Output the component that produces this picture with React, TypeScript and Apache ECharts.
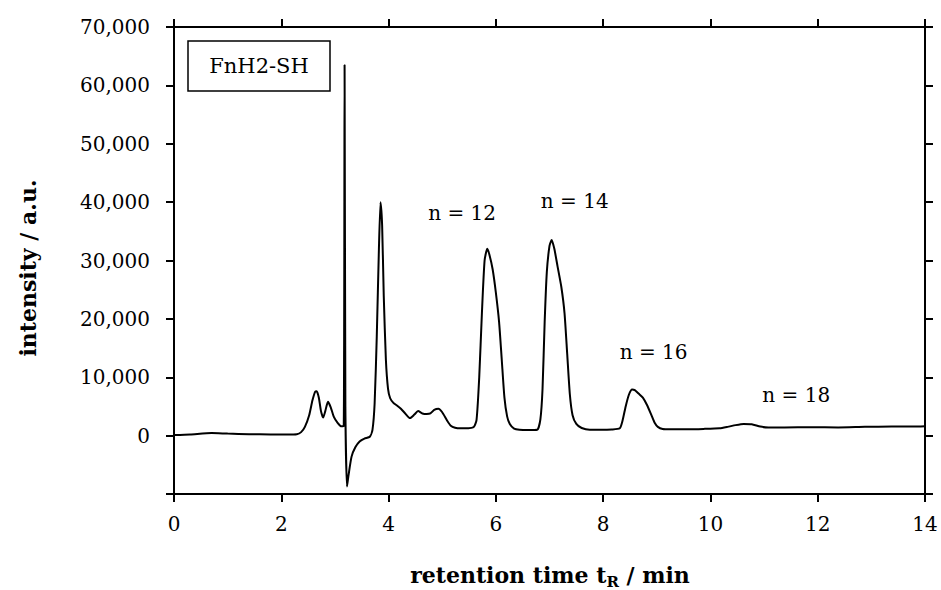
import React, { useEffect, useRef } from 'react';
import * as echarts from 'echarts';

const retentionTime = [
  0, 0.3, 0.7, 1.0, 1.4, 1.8, 2.11, 2.29, 2.37, 2.44, 2.52, 2.58, 2.63, 2.66, 2.7, 2.74, 2.78, 2.82, 2.87, 2.92,
  2.98, 3.05, 3.12, 3.165, 3.18, 3.195, 3.225, 3.25, 3.31, 3.38, 3.46, 3.55, 3.65, 3.7, 3.74, 3.78, 3.82, 3.85,
  3.88, 3.91, 3.95, 3.99, 4.03, 4.09, 4.15, 4.23, 4.31, 4.4, 4.48, 4.55, 4.63, 4.71, 4.78, 4.85, 4.93, 5.0, 5.09,
  5.16, 5.24, 5.34, 5.49, 5.59, 5.64, 5.69, 5.74, 5.79, 5.84, 5.88, 5.94, 6.0, 6.06, 6.11, 6.16, 6.21, 6.26, 6.34, 6.44,
  6.6, 6.77, 6.83, 6.87, 6.91, 6.95, 7.0, 7.04, 7.09, 7.15, 7.22, 7.28, 7.33, 7.38, 7.43, 7.5, 7.6, 7.75, 7.95,
  8.16, 8.31, 8.36, 8.42, 8.48, 8.54, 8.59, 8.66, 8.74, 8.82, 8.9, 8.96, 9.02, 9.11, 9.26, 9.57, 9.87, 10.17, 10.32,
  10.47, 10.62, 10.77, 10.93, 11.08, 11.38, 11.88, 12.38, 12.88, 13.38, 13.78, 14.0,
];
const intensity = [
  100, 200, 450, 350, 250, 200, 200, 250, 600, 1500, 3500, 6000, 7500, 7600, 6500, 4200, 3100, 4200, 5800, 4900,
  3200, 2200, 1600, 1700, 63500, 5000, -8700, -7000, -3600, -2000, -1000, -500, -200, 1000, 5500, 17000, 32000, 40000,
  36000, 24000, 13000, 8000, 6400, 5600, 5200, 4600, 3800, 3000, 3600, 4200, 3800, 3700, 3800, 4400, 4600, 4000, 2600,
  1700, 1350, 1250, 1250, 1500, 2700, 10000, 21000, 30000, 32000, 31000, 28500, 24500, 19500, 13000, 6500, 3300, 2000, 1200, 1000,
  950, 1000, 2800, 8000, 19500, 28000, 32500, 33500, 32000, 29000, 25500, 21000, 14000, 7000, 3500, 2000, 1300, 1000, 1000,
  1050, 1250, 2500, 5000, 7000, 7900, 7800, 7200, 6500, 5200, 3500, 2200, 1500, 1150, 1100, 1100, 1150, 1250, 1500,
  1800, 2000, 1950, 1550, 1400, 1400, 1450, 1400, 1500, 1550, 1550, 1600,
];

const annotationText = ['n = 12', 'n = 14', 'n = 16', 'n = 18'];
const annotationX = [5.37, 7.47, 8.94, 11.6];
const annotationY = [38100, 40200, 14300, 7000];
const sampleName = 'FnH2-SH';
const xTitleMain = 'retention time t';
const xTitleSub = 'R';
const xTitleTail = ' / min';
const yTitle = 'intensity / a.u.';

const FONT = 'DejaVu Serif';

export default function App() {
  const ref = useRef<HTMLDivElement>(null);
  useEffect(() => {
    const chart = echarts.init(ref.current!, null, { renderer: 'svg' });
    const axisLine = { show: true, onZero: false, lineStyle: { color: '#000', width: 2 } };
    const axisTick = { show: true, inside: false, length: 8, lineStyle: { color: '#000', width: 2 } };
    const lbl = { color: '#000', fontSize: 20, fontFamily: FONT };
    chart.setOption({
      animation: false,
      backgroundColor: '#fff',
      grid: { left: 174, right: 16, top: 27, bottom: 96, containLabel: false },
      xAxis: [
        {
          type: 'value', min: 0, max: 14, interval: 2, position: 'bottom',
          axisLine, axisTick, splitLine: { show: false },
          axisLabel: { ...lbl, margin: 20 },
        },
        {
          type: 'value', min: 0, max: 14, interval: 2, position: 'top',
          axisLine, axisTick, splitLine: { show: false },
          axisLabel: { show: false },
        },
      ],
      yAxis: [
        {
          type: 'value', min: -10000, max: 70000, interval: 10000, position: 'left',
          axisLine, axisTick, splitLine: { show: false },
          axisLabel: {
            ...lbl, margin: 24,
            formatter: (v: number) => (v < 0 ? '' : v.toLocaleString('en-US')),
          },
        },
        {
          type: 'value', min: -10000, max: 70000, interval: 10000, position: 'right',
          axisLine, axisTick, splitLine: { show: false },
          axisLabel: { show: false },
        },
      ],
      series: [
        {
          type: 'line',
          xAxisIndex: 0,
          yAxisIndex: 0,
          data: retentionTime.map((t, i) => [t, intensity[i]]),
          showSymbol: false,
          symbol: 'none',
          smooth: 0.2,
          lineStyle: { color: '#000', width: 2 },
          markPoint: {
            symbol: 'circle',
            symbolSize: 0,
            label: { show: true, position: 'inside', formatter: '{b}', ...lbl },
            data: annotationText.map((n, i) => ({ name: n, coord: [annotationX[i], annotationY[i]] })),
          },
        },
      ],
      graphic: [
        {
          type: 'rect',
          shape: { x: 188, y: 41, width: 142, height: 50 },
          style: { fill: '#fff', stroke: '#000', lineWidth: 1.5 },
          z: 10,
        },
        {
          type: 'text',
          x: 259, y: 66, z: 11,
          style: { text: sampleName, align: 'center', verticalAlign: 'middle', fill: '#000', font: `21px "${FONT}"` },
        },
        {
          type: 'text',
          x: 550, y: 575, z: 11,
          style: {
            text: `{b|${xTitleMain}}{s|${xTitleSub}}{b|${xTitleTail}}`,
            align: 'center', verticalAlign: 'middle',
            rich: {
              b: { fontSize: 22, lineHeight: 28, fontWeight: 'bold', fontFamily: FONT, color: '#000' },
              s: { fontSize: 15, lineHeight: 15, verticalAlign: 'bottom', fontWeight: 'bold', fontFamily: FONT, color: '#000' },
            },
          },
        },
        {
          type: 'text',
          x: 28, y: 268, z: 11, rotation: Math.PI / 2,
          style: {
            text: yTitle, align: 'center', verticalAlign: 'middle', fill: '#000',
            font: `bold 22px "${FONT}"`,
          },
        },
      ],
    });
    return () => chart.dispose();
  }, []);
  return (
    <div
      ref={ref}
      style={{ position: 'fixed', left: 0, top: 0, width: 941, height: 590, background: '#fff' }}
    />
  );
}
